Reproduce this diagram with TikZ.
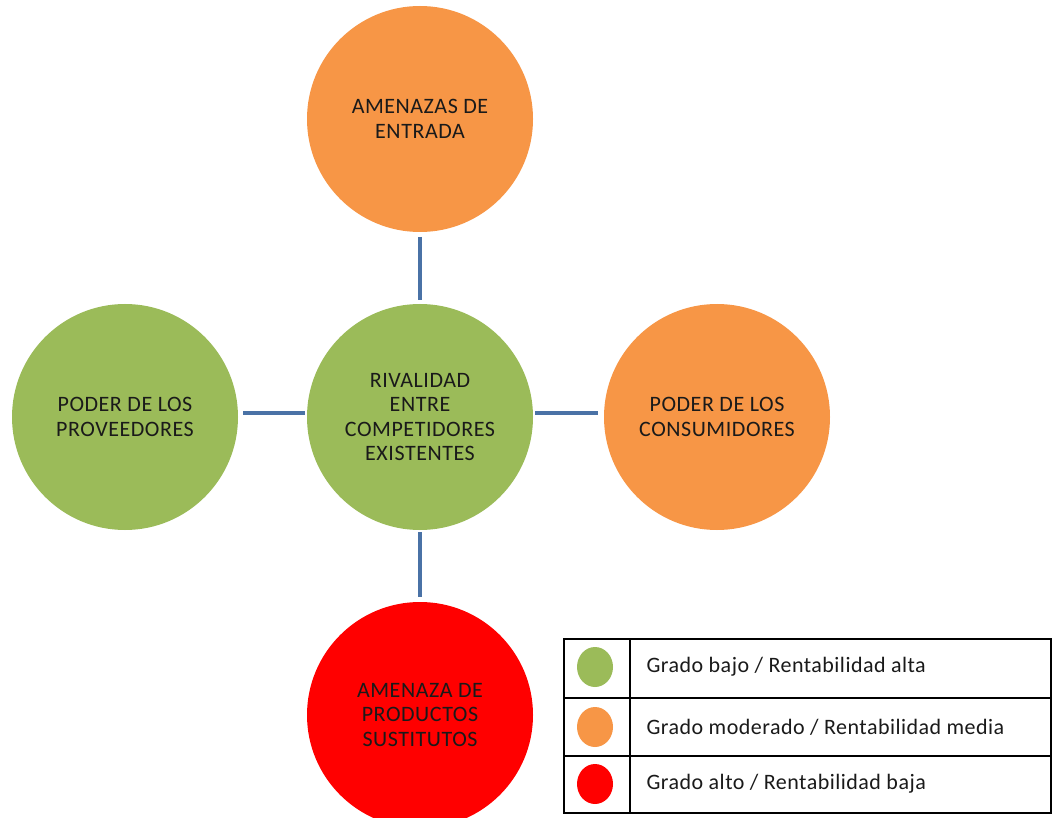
\documentclass[tikz,border=0pt]{standalone}
\usepackage{fontspec}
\setmainfont{Carlito}
\usetikzlibrary{shapes.geometric}
\definecolor{cgreen}{HTML}{9BBB59}
\definecolor{corange}{HTML}{F79646}
\definecolor{cred}{HTML}{FF0000}
\definecolor{cline}{HTML}{4A72A6}
\definecolor{ctext}{HTML}{1A1A1A}
\begin{document}
\begin{tikzpicture}[x=1pt,y=-1pt,
  force/.style={circle,minimum size=226pt,inner sep=0pt,text=ctext,align=center,
    font=\fontsize{22}{24.5}\selectfont\addfontfeature{LetterSpace=2.5}},
  link/.style={draw=cline,line width=4pt},
  dot/.style={ellipse,minimum width=36pt,minimum height=40pt,inner sep=0pt},
  legtext/.style={anchor=west,text=ctext,font=\fontsize{22}{24}\selectfont\addfontfeature{LetterSpace=2.2}},
  grid/.style={draw=black,line width=1.3pt}]
\useasboundingbox (0,0) rectangle (1052,818);
\clip (0,0) rectangle (1052,818);
\fill[white] (0,0) rectangle (1052,818);
\node[force,fill=corange] (top) at (420,119) {AMENAZAS DE\\ENTRADA};
\node[force,fill=cgreen] (mid) at (420,417) {RIVALIDAD\\ENTRE\\COMPETIDORES\\EXISTENTES};
\node[force,fill=cgreen] (left) at (125,417) {PODER DE LOS\\PROVEEDORES};
\node[force,fill=corange] (right) at (717,417) {PODER DE LOS\\CONSUMIDORES};
\node[force,fill=cred] (bot) at (420,715) {AMENAZA DE\\PRODUCTOS\\SUSTITUTOS};
\coordinate (t1) at (420,237); \coordinate (t2) at (420,300);
\coordinate (l1) at (243,413); \coordinate (l2) at (305,413);
\coordinate (r1) at (535,413); \coordinate (r2) at (598,413);
\coordinate (b1) at (420,532); \coordinate (b2) at (420,597);
\draw[link] (t1) -- (t2);
\draw[link] (l1) -- (l2);
\draw[link] (r1) -- (r2);
\draw[link] (b1) -- (b2);
% legend
\coordinate (lg1) at (564,639);
\coordinate (lg2) at (1051,813);
\draw[grid] (lg1) rectangle (lg2);
\coordinate (cA) at (630,639); \coordinate (cB) at (630,813);
\draw[grid] (cA) -- (cB);
\coordinate (rA1) at (564,698); \coordinate (rA2) at (1051,698);
\coordinate (rB1) at (564,756); \coordinate (rB2) at (1051,756);
\draw[grid] (rA1) -- (rA2);
\draw[grid] (rB1) -- (rB2);
\node[dot,fill=cgreen] (d1) at (595,667) {};
\node[dot,fill=corange] (d2) at (595,727) {};
\node[dot,fill=cred] (d3) at (595,784) {};
\node[legtext] (g1) at (643,667) {Grado bajo / Rentabilidad alta};
\node[legtext] (g2) at (643,727) {Grado moderado / Rentabilidad media};
\node[legtext] (g3) at (643,784) {Grado alto / Rentabilidad baja};
\end{tikzpicture}
\end{document}
